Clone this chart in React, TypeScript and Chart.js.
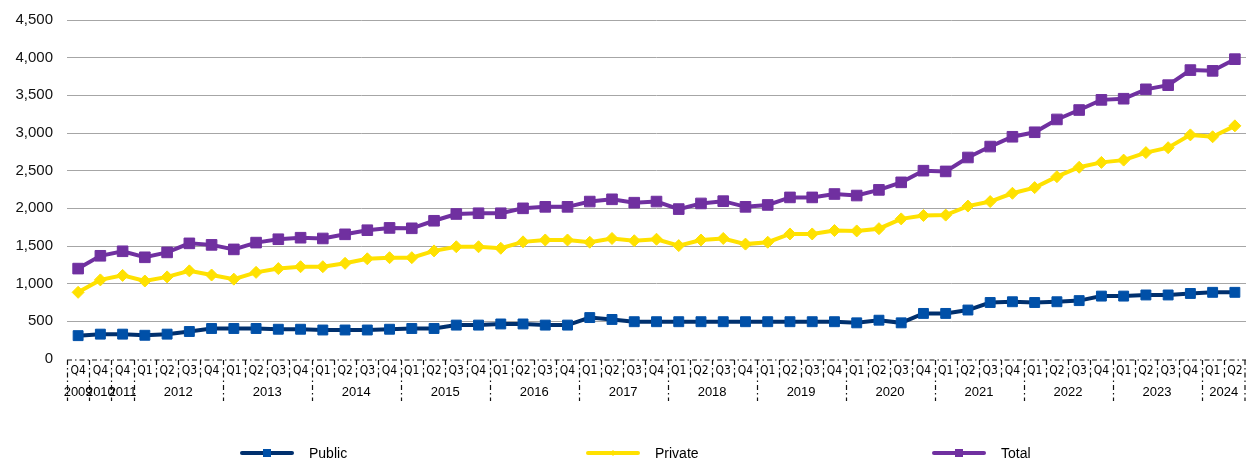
import React, { useEffect, useRef } from 'react';
import { Chart, registerables } from 'chart.js';

Chart.register(...registerables);

const quarterLabels = [
  'Q4', 'Q4', 'Q4',
  'Q1', 'Q2', 'Q3', 'Q4',
  'Q1', 'Q2', 'Q3', 'Q4',
  'Q1', 'Q2', 'Q3', 'Q4',
  'Q1', 'Q2', 'Q3', 'Q4',
  'Q1', 'Q2', 'Q3', 'Q4',
  'Q1', 'Q2', 'Q3', 'Q4',
  'Q1', 'Q2', 'Q3', 'Q4',
  'Q1', 'Q2', 'Q3', 'Q4',
  'Q1', 'Q2', 'Q3', 'Q4',
  'Q1', 'Q2', 'Q3', 'Q4',
  'Q1', 'Q2', 'Q3', 'Q4',
  'Q1', 'Q2', 'Q3', 'Q4',
  'Q1', 'Q2',
];

const yearOfCategory = [
  '2009', '2010', '2011',
  '2012', '2012', '2012', '2012',
  '2013', '2013', '2013', '2013',
  '2014', '2014', '2014', '2014',
  '2015', '2015', '2015', '2015',
  '2016', '2016', '2016', '2016',
  '2017', '2017', '2017', '2017',
  '2018', '2018', '2018', '2018',
  '2019', '2019', '2019', '2019',
  '2020', '2020', '2020', '2020',
  '2021', '2021', '2021', '2021',
  '2022', '2022', '2022', '2022',
  '2023', '2023', '2023', '2023',
  '2024', '2024',
];

const publicValues = [
  310, 330, 330,
  315, 330, 365, 405,
  405, 405, 395, 395,
  385, 385, 385, 395,
  405, 405, 450, 450,
  465, 465, 450, 450,
  550, 525, 495, 495,
  495, 495, 495, 495,
  495, 495, 495, 495,
  480, 515, 480, 605,
  605, 650, 750, 760,
  750, 760, 775, 835,
  835, 850, 850, 870,
  885, 885,
];

const privateValues = [
  885, 1050, 1110,
  1035, 1090, 1170, 1115,
  1060, 1150, 1200, 1225,
  1225, 1270, 1330, 1345,
  1345, 1435, 1490, 1490,
  1470, 1555, 1580, 1580,
  1550, 1600, 1570, 1590,
  1505, 1580, 1600, 1525,
  1550, 1660, 1660, 1705,
  1700, 1730, 1860, 1905,
  1910, 2030, 2090, 2200,
  2275, 2420, 2545, 2610,
  2640, 2740, 2805, 2975,
  2950, 3095,
];

const totalValues = [
  1200, 1370, 1430,
  1350, 1415, 1535, 1515,
  1455, 1545, 1590, 1610,
  1600, 1655, 1710, 1740,
  1735, 1835, 1925, 1935,
  1935, 2000, 2020, 2020,
  2090, 2120, 2075, 2090,
  1990, 2065, 2095, 2020,
  2045, 2145, 2145, 2190,
  2170, 2245, 2345, 2500,
  2490, 2675, 2820, 2950,
  3010, 3180, 3305, 3440,
  3455, 3580, 3635, 3835,
  3825, 3980,
];

const seriesNames = ['Public', 'Private', 'Total'];

const Y_MIN = 0;
const Y_MAX = 4500;
const Y_STEP = 500;

type YearGroup = { label: string; start: number; end: number };
const yearGroups: YearGroup[] = [];
yearOfCategory.forEach((y, i) => {
  const g = yearGroups[yearGroups.length - 1];
  if (g && g.label === y) g.end = i;
  else yearGroups.push({ label: y, start: i, end: i });
});

const BASE_FONT = '"Liberation Sans", Arial, sans-serif';
const NARROW_FONT = '"DejaVu Sans Condensed", "Liberation Sans", Arial, sans-serif';

function zeroHorizontalPadding(scale: any) {
  scale.paddingLeft = 0;
  scale.paddingRight = 0;
}

const axisDecorPlugin = {
  id: 'axisDecor',
  afterDraw(chart: any) {
    const { ctx, chartArea } = chart;
    const x2 = chart.scales.x2;
    const yBase = chartArea.bottom + 1;
    ctx.save();
    ctx.strokeStyle = '#111';
    ctx.lineWidth = 1.2;
    ctx.setLineDash([5, 3, 1.5, 3]);
    ctx.beginPath();
    ctx.moveTo(chartArea.left, yBase);
    ctx.lineTo(chartArea.right, yBase);
    ctx.stroke();
    const n = quarterLabels.length;
    const longSet = new Set<number>(yearGroups.map((g) => g.start));
    longSet.add(n);
    for (let i = 0; i <= n; i++) {
      let px = Math.round(x2.getPixelForValue(i - 0.5)) + 0.5;
      if (i === n) px = Math.min(px, chart.width - 1);
      const isLong = longSet.has(i);
      ctx.beginPath();
      ctx.moveTo(px, yBase);
      ctx.lineTo(px, yBase + (isLong ? 41 : 18));
      ctx.stroke();
    }
    ctx.restore();
  },
};

const legendPlugin = {
  id: 'customLegend',
  afterDraw(chart: any) {
    const { ctx } = chart;
    const y = 453;
    const x0 = 240;
    const step = 346;
    const lineLen = 54;
    ctx.save();
    chart.data.datasets.forEach((ds: any, i: number) => {
      const x = x0 + i * step;
      ctx.strokeStyle = ds.borderColor;
      ctx.lineWidth = 4;
      ctx.lineCap = 'round';
      ctx.setLineDash([]);
      ctx.beginPath();
      ctx.moveTo(x + 2, y);
      ctx.lineTo(x + lineLen - 2, y);
      ctx.stroke();
      const cx = x + lineLen / 2;
      ctx.fillStyle = ds.pointBackgroundColor;
      if (ds.pointStyle === 'rectRot') {
        ctx.beginPath();
        ctx.moveTo(cx - 3, y);
        ctx.lineTo(cx, y - 3);
        ctx.lineTo(cx + 3, y);
        ctx.lineTo(cx, y + 3);
        ctx.closePath();
        ctx.fill();
      } else {
        ctx.fillRect(cx - 4, y - 4, 8, 8);
      }
      ctx.fillStyle = '#000';
      ctx.font = `14px ${BASE_FONT}`;
      ctx.textBaseline = 'middle';
      ctx.textAlign = 'left';
      ctx.fillText(ds.label, x + lineLen + 15, y + 1);
    });
    ctx.restore();
  },
};

export default function App() {
  const canvasRef = useRef<HTMLCanvasElement | null>(null);

  useEffect(() => {
    if (!canvasRef.current) return;
    const chart = new Chart(canvasRef.current, {
      type: 'line',
      data: {
        labels: quarterLabels,
        datasets: [
          {
            label: seriesNames[0],
            data: publicValues,
            borderColor: '#00306E',
            backgroundColor: '#0050A8',
            pointBackgroundColor: '#0050A8',
            pointBorderColor: '#0050A8',
            pointStyle: 'rect',
            pointRadius: 7,
            pointBorderWidth: 1,
            borderWidth: 4,
            tension: 0,
          },
          {
            label: seriesNames[1],
            data: privateValues,
            borderColor: '#FFE100',
            backgroundColor: '#FFE100',
            pointBackgroundColor: '#FFE100',
            pointBorderColor: '#FFE100',
            pointStyle: 'rectRot',
            pointRadius: 6,
            pointBorderWidth: 1,
            borderWidth: 4,
            tension: 0,
          },
          {
            label: seriesNames[2],
            data: totalValues,
            borderColor: '#7030A0',
            backgroundColor: '#7030A0',
            pointBackgroundColor: '#7030A0',
            pointBorderColor: '#7030A0',
            pointStyle: 'rect',
            pointRadius: 7.5,
            pointBorderWidth: 1,
            borderWidth: 4,
            tension: 0,
          },
        ],
      },
      options: {
        animation: false,
        responsive: false,
        devicePixelRatio: 1,
        events: [],
        layout: { autoPadding: false, padding: { top: 20, right: 0, bottom: 60, left: 0 } },
        plugins: {
          legend: { display: false },
          tooltip: { enabled: false },
        },
        scales: {
          x: {
            type: 'category',
            offset: true,
            grid: { display: false, drawTicks: false },
            border: { display: false },
            ticks: {
              autoSkip: false,
              maxRotation: 0,
              minRotation: 0,
              padding: 5,
              color: '#000',
              font: { family: NARROW_FONT, size: 12 },
            },
            afterFit(scale: any) {
              scale.height = 20;
              zeroHorizontalPadding(scale);
            },
          },
          x2: {
            type: 'linear',
            position: 'bottom',
            weight: 1,
            min: -0.5,
            max: quarterLabels.length - 0.5,
            grid: { display: false, drawTicks: false },
            border: { display: false },
            afterBuildTicks(scale: any) {
              scale.ticks = yearGroups.map((g) => ({ value: (g.start + g.end) / 2 }));
            },
            ticks: {
              autoSkip: false,
              maxRotation: 0,
              minRotation: 0,
              padding: 6,
              color: '#000',
              font: { family: BASE_FONT, size: 13 },
              callback: (_v: any, i: number) => (yearGroups[i] ? yearGroups[i].label : ''),
            },
            afterFit(scale: any) {
              scale.height = 22;
              zeroHorizontalPadding(scale);
            },
          },
          y: {
            min: Y_MIN,
            max: Y_MAX,
            border: { display: false },
            grid: {
              drawTicks: false,
              lineWidth: 1,
              color: (c: any) => (c.tick && c.tick.value === 0 ? 'rgba(0,0,0,0)' : '#A6A6A6'),
            },
            ticks: {
              stepSize: Y_STEP,
              padding: 14,
              color: '#111',
              font: { family: BASE_FONT, size: 15 },
              callback: (v: any) => Number(v).toLocaleString('en-US'),
            },
            afterFit(scale: any) {
              scale.width = 67;
              scale.paddingTop = 0;
              scale.paddingBottom = 0;
            },
          },
        },
      } as any,
      plugins: [axisDecorPlugin, legendPlugin],
    });
    return () => chart.destroy();
  }, []);

  return (
    <div style={{ position: 'absolute', left: 0, top: 0, width: 1246, height: 461, background: '#fff' }}>
      <canvas ref={canvasRef} width={1246} height={461} style={{ display: 'block' }} />
    </div>
  );
}
